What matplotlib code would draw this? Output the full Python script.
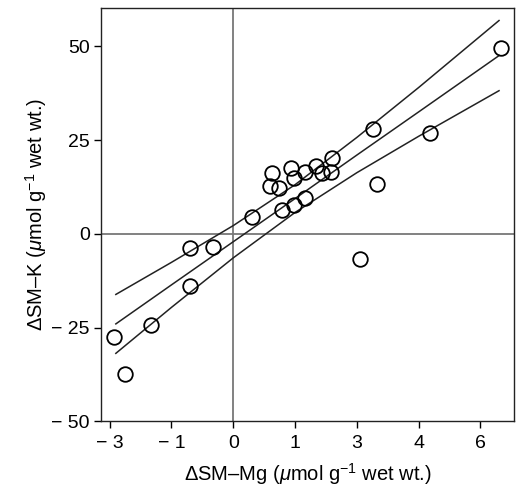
import matplotlib
matplotlib.use('Agg')
import matplotlib.pyplot as plt

plt.rcParams['font.family'] = ['Liberation Sans', 'DejaVu Sans']
plt.rcParams['mathtext.fontset'] = 'custom'
plt.rcParams['mathtext.rm'] = 'Liberation Sans'
plt.rcParams['mathtext.it'] = 'Liberation Sans:italic'

# data points (delta SM-Mg, delta SM-K)
sm_mg = [6.50, 3.40, 4.78, 3.48, 2.40, 2.36, 2.16, 2.02, 1.73, 1.39, 1.47,
         0.94, 0.90, 1.10, 1.18, 1.47, 1.73, 0.45, -0.48, -1.06, 3.07,
         -1.06, -2.00, -2.89, -2.63]
sm_k = [49.5, 27.9, 27.0, 13.3, 20.2, 16.4, 16.2, 18.1, 16.6, 17.5, 14.8,
        16.2, 12.8, 12.2, 6.4, 7.7, 9.5, 4.4, -3.4, -3.8, -6.7,
        -14.0, -24.2, -27.4, -37.4]

# regression line and confidence band
band_x = [-2.85, -1.5, 0, 1.5, 3, 4.5, 6.45]
band_mid = [-24.0, -13.6, -2.1, 9.4, 21.0, 32.5, 47.5]
band_upper = [-16.15, -7.6, 2.2, 13.1, 25.7, 39.0, 56.85]
band_lower = [-31.85, -19.6, -6.4, 5.7, 16.3, 26.0, 38.15]

xticks = [-3, -1.5, 0, 1.5, 3, 4.5, 6]
xtick_labels = ['\u2212 3', '\u2212 1', '0', '1', '3', '4', '6']
yticks = [-50, -25, 0, 25, 50]
ytick_labels = ['\u2212 50', '\u2212 25', '0', '25', '50']

fig = plt.figure(figsize=(5.18, 4.97), dpi=100)
ax = fig.add_axes([0.195, 0.152, 0.797, 0.832])

# cross hairs at zero
ax.axhline(0, color='#777777', lw=1.3, zorder=1)
ax.axvline(0, color='#777777', lw=1.3, zorder=1)

for ys in (band_upper, band_mid, band_lower):
    ax.plot(band_x, ys, color='#222222', lw=1.1, zorder=2)

ax.plot(sm_mg, sm_k, 'o', mfc='none', mec='black', ms=10.5, mew=1.3, zorder=3)

ax.set_xlim(-3.21, 6.81)
ax.set_ylim(-50, 60.2)
ax.set_xticks(xticks)
ax.set_xticklabels(xtick_labels)
ax.set_yticks(yticks)
ax.set_yticklabels(ytick_labels)
ax.tick_params(labelsize=14, length=5, width=1, direction='out')
ax.tick_params(axis='x', pad=5)
ax.tick_params(axis='y', pad=3)

for s in ax.spines.values():
    s.set_linewidth(1)
    s.set_color('#222222')

ax.set_xlabel(r'$\Delta$SM$\endash$Mg ($\mu$mol g$^{-1}$ wet wt.)', fontsize=14.5, labelpad=6)
ax.set_ylabel(r'$\Delta$SM$\endash$K ($\mu$mol g$^{-1}$ wet wt.)', fontsize=14.5, labelpad=2)

fig.savefig('out.png', dpi=100)
